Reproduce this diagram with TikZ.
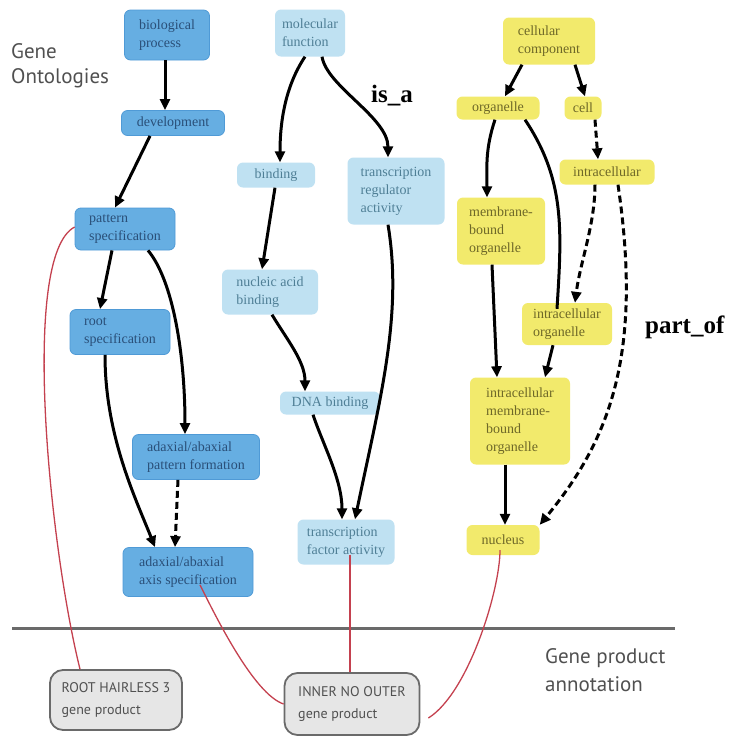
\documentclass[tikz,border=0pt]{standalone}
\usepackage{fontspec}
\setmainfont{Liberation Serif}
\newfontfamily\labfont{PT Sans}
\usetikzlibrary{arrows.meta}
\definecolor{bpfill}{HTML}{66AEE2}
\definecolor{bpline}{HTML}{4F9AD6}
\definecolor{bptext}{HTML}{2A4F78}
\definecolor{mffill}{HTML}{BFE1F2}
\definecolor{mftext}{HTML}{4F7F96}
\definecolor{ccfill}{HTML}{F2EA6C}
\definecolor{cctext}{HTML}{6E6828}
\definecolor{redline}{HTML}{C4414F}
\definecolor{gpfill}{HTML}{E6E6E6}
\definecolor{gpline}{HTML}{6A6A6A}
\definecolor{labgray}{HTML}{505050}
\begin{document}
\begin{tikzpicture}[x=1pt,y=-1pt,
  gonode/.style={rounded corners=6pt, inner sep=2pt, align=left,
    font=\fontsize{14}{18}\selectfont},
  bpn/.style={gonode, fill=bpfill, draw=bpline, line width=0.8pt, text=bptext},
  mfn/.style={gonode, fill=mffill, text=mftext},
  ccn/.style={gonode, fill=ccfill, text=cctext},
  arr/.style={line width=3pt, draw=black, -{Triangle[length=11pt,width=10pt]}},
  plainline/.style={line width=3pt, draw=black},
  dsh/.style={arr, dash pattern=on 7pt off 4pt},
  ann/.style={draw=redline, line width=1.3pt},
  gpbox/.style={rounded corners=13pt, fill=gpfill, draw=gpline, line width=1.8pt,
    align=left, text=labgray, inner sep=4pt,
    font=\labfont\fontsize{14}{22}\selectfont},
  biglab/.style={font=\labfont\fontsize{21}{25}\selectfont, text=labgray, align=left, inner sep=0pt},
  rellab/.style={font=\bfseries\fontsize{25}{28}\selectfont, inner sep=0pt}
]
\useasboundingbox (0,0) rectangle (733,740);
% labels
\node[biglab, anchor=north west] (golab) at (11,43) {Gene\\Ontologies};
\node[biglab, anchor=north west, font=\labfont\fontsize{21}{28}\selectfont] (gplab) at (545,648) {Gene product\\annotation};
\node[rellab] (isa) at (392,96) {is\_a};
\node[rellab, anchor=west] (partof) at (645,327) {part\_of};

% biological process
\node[bpn, minimum width=85pt, minimum height=50pt] (bp) at (167,35) {biological\\process};
\node[bpn, minimum width=103pt, minimum height=25pt] (dev) at (173,123) {development};
\node[bpn, minimum width=100pt, minimum height=42pt] (ps) at (125,229) {pattern\\specification};
\node[bpn, minimum width=100pt, minimum height=45pt] (rs) at (120,332) {root\\specification};
\node[bpn, minimum width=127pt, minimum height=45pt] (apf) at (196,457) {adaxial/abaxial\\pattern formation};
\node[bpn, minimum width=130pt, minimum height=49pt] (aas) at (188,572) {adaxial/abaxial\\axis specification};

% molecular function
\node[mfn, minimum width=70pt, minimum height=47pt] (mf) at (310,33) {molecular\\function};
\node[mfn, minimum width=78pt, minimum height=25pt] (bind) at (276,175) {binding};
\node[mfn, minimum width=96pt, minimum height=45pt] (nab) at (270,292) {nucleic acid\\binding};
\node[mfn, minimum width=100pt, minimum height=23pt] (dna) at (330,403) {DNA binding};
\node[mfn, minimum width=97pt, minimum height=67pt] (tra) at (396,191) {transcription\\regulator\\activity};
\node[mfn, minimum width=97pt, minimum height=45pt] (tfa) at (346,542) {transcription\\factor activity};

% cellular component
\node[ccn, minimum width=92pt, minimum height=47pt] (cc) at (549,41) {cellular\\component};
\node[ccn, minimum width=83pt, minimum height=23pt] (org) at (498,108) {organelle};
\node[ccn, minimum width=37pt, minimum height=23pt] (cell) at (583,108) {cell};
\node[ccn, minimum width=95pt, minimum height=25pt] (intra) at (607,172) {intracellular};
\node[ccn, minimum width=88pt, minimum height=67pt] (mbo) at (501,231) {membrane-\\bound\\organelle};
\node[ccn, minimum width=90pt, minimum height=42pt] (io) at (567,324) {intracellular\\organelle};
\node[ccn, minimum width=100pt, minimum height=87pt] (imbo) at (520,421) {intracellular\\membrane-\\bound\\organelle};
\node[ccn, minimum width=73pt, minimum height=30pt] (nuc) at (503,540) {nucleus};

% gene products
\node[gpbox, minimum width=132pt, minimum height=60pt] (rh3) at (116,700) {ROOT HAIRLESS 3\\gene product};
\node[gpbox, minimum width=135pt, minimum height=62pt] (ino) at (352,704) {INNER NO OUTER\\gene product};

% separator
\coordinate (sepL) at (12,628);
\coordinate (sepR) at (675,628);
\draw[line width=3pt, draw=gpline] (sepL) -- (sepR);

% bp arrows
\draw[arr] ([xshift=-2pt]bp.south) -- ([xshift=-8pt]dev.north);
\draw[arr] ([xshift=-23pt]dev.south) -- ([xshift=-10pt]ps.north);
\draw[arr] ([xshift=-13pt]ps.south) -- ([xshift=-20pt]rs.north);
\draw[arr] ([xshift=23pt]ps.south) .. controls +(25,30) and +(0,-80) .. ([xshift=-11pt]apf.north);
\draw[arr] ([xshift=-15pt]rs.south) .. controls +(0,80) and +(-20,-50) .. ([xshift=-33pt]aas.north);
\draw[dsh] ([xshift=-18pt]apf.south) -- ([xshift=-13pt]aas.north);

% mf arrows
\draw[arr] ([xshift=-5pt]mf.south) .. controls +(-20,30) and +(0,-40) .. ([xshift=4pt]bind.north);
\draw[arr] ([xshift=12pt]mf.south) .. controls +(5,30) and +(0,-40) .. ([xshift=-8pt]tra.north);
\draw[arr] ([xshift=-1pt]bind.south) -- ([xshift=-8pt]nab.north);
\draw[arr] ([xshift=2pt]nab.south) .. controls +(15,25) and +(0,-30) .. ([xshift=-25pt]dna.north);
\draw[arr] ([xshift=-17pt]dna.south) .. controls +(10,30) and +(0,-40) .. ([xshift=-4pt]tfa.north);
\draw[arr] ([xshift=-8pt]tra.south) .. controls +(15,90) and +(25,-120) .. ([xshift=9pt]tfa.north);

% cc arrows
\draw[arr] ([xshift=-27pt]cc.south) -- ([xshift=7pt]org.north);
\draw[arr] ([xshift=26pt]cc.south) -- ([xshift=2pt]cell.north);
\draw[dsh] ([xshift=12pt]cell.south) -- ([xshift=-9pt]intra.north);
\draw[arr] ([xshift=-3pt]org.south) .. controls +(-10,30) and +(0,-30) .. ([xshift=-14pt]mbo.north);
\draw[plainline] ([xshift=27pt]org.south) .. controls +(40,60) and +(5,-80) .. ([xshift=-10pt,yshift=-6pt]io.north);
\draw[dsh] ([xshift=-12pt]intra.south) .. controls +(0,40) and +(5,-40) .. ([xshift=8pt]io.north);
\draw[dsh] ([xshift=11pt]intra.south) .. controls +(25,170) and +(70,-85) .. (nuc.north east);
\draw[arr] ([xshift=-9pt]mbo.south) -- ([xshift=-23pt]imbo.north);
\draw[arr] ([xshift=-14pt]io.south) -- ([xshift=25pt]imbo.north);
\draw[arr] ([xshift=-15pt]imbo.south) -- ([xshift=2pt]nuc.north);

% annotation lines
\draw[ann] ([yshift=2pt]ps.west) .. controls +(-55,29) and +(-30,-120) .. ([xshift=-36pt]rh3.north);
\draw[ann] ([xshift=12pt,yshift=12pt]aas.south) .. controls +(15,30) and +(-30,-10) .. (ino.west);
\draw[ann] ([xshift=4pt,yshift=10pt]tfa.south) .. controls +(0,40) and +(0,-40) .. ([xshift=-2pt]ino.north);
\draw[ann] ([xshift=-3pt,yshift=5pt]nuc.south) .. controls +(0,40) and +(40,-25) .. ([xshift=8pt,yshift=-14pt]ino.east);
\end{tikzpicture}
\end{document}
